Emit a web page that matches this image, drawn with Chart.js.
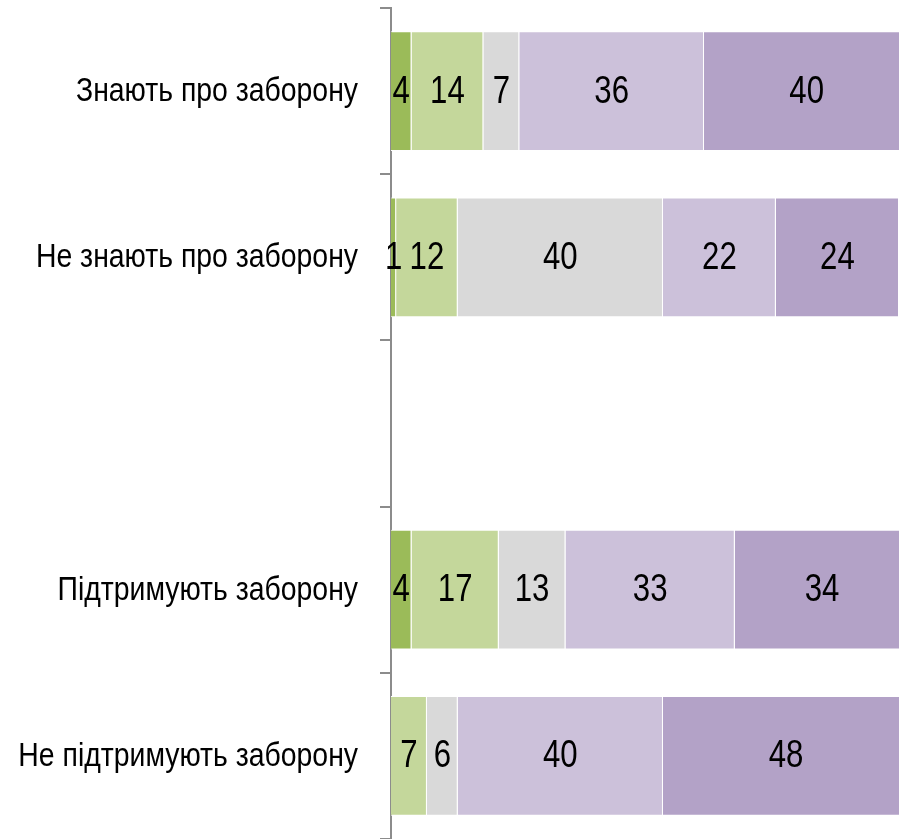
<!DOCTYPE html>
<html lang="uk">

<head>
    <meta charset="UTF-8">
    <title>Заборона</title>
    <script src="https://cdn.jsdelivr.net/npm/chart.js@4.4.0/dist/chart.umd.min.js"></script>
    <style>
        html,
        body {
            margin: 0;
            padding: 0;
            background: white;
        }

        #wrap {
            width: 899px;
            height: 839px;
        }
    </style>
</head>

<body>
    <div id="wrap">
        <canvas id="myChart"></canvas>
    </div>

    <script>
        const categories = [
            'Знають про заборону',
            'Не знають про заборону',
            '',
            'Підтримують заборону',
            'Не підтримують заборону'
        ]

        // five answer groups, from dark green to dark purple
        const group1 = [4, 1, null, 4, 0]
        const group2 = [14, 12, null, 17, 7]
        const group3 = [7, 40, null, 13, 6]
        const group4 = [36, 22, null, 33, 40]
        const group5 = [40, 24, null, 34, 48]

        const colors = ['#9bbb59', '#c4d79b', '#d9d9d9', '#ccc1da', '#b3a2c7']
        const series = [group1, group2, group3, group4, group5]

        // no narrow font installed, so squeeze Liberation Sans like Arial Narrow
        const FONT = '"Liberation Sans", Arial, sans-serif'

        function narrowText(ctx, text, x, y, size, align, squeeze) {
            ctx.save()
            ctx.font = size + 'px ' + FONT
            ctx.fillStyle = '#000'
            ctx.textAlign = align
            ctx.textBaseline = 'middle'
            ctx.translate(x, y)
            ctx.scale(squeeze, 1)
            ctx.fillText(text, 0, 0)
            ctx.restore()
        }

        // category names left of the axis
        const categoryLabels = {
            id: 'categoryLabels',
            afterDraw(chart) {
                const scale = chart.scales.y
                chart.data.labels.forEach((lab, i) => {
                    if (!lab) return
                    const y = scale.getPixelForTick(i)
                    narrowText(chart.ctx, lab, scale.right - 33, y + 1, 33, 'right', 0.86)
                })
            }
        }

        // write the value in the middle of every segment
        const valueLabels = {
            id: 'valueLabels',
            afterDatasetsDraw(chart) {
                chart.data.datasets.forEach((ds, i) => {
                    const meta = chart.getDatasetMeta(i)
                    meta.data.forEach((bar, j) => {
                        const v = ds.data[j]
                        if (!v) return
                        const p = bar.getCenterPoint()
                        narrowText(chart.ctx, String(v), p.x, p.y + 1, 38, 'center', 0.82)
                    })
                })
            }
        }

        const chart = new Chart('myChart', {
            type: 'bar',
            data: {
                labels: categories,
                datasets: series.map((d, i) => ({
                    data: d,
                    backgroundColor: colors[i],
                    borderColor: '#ffffff',
                    borderWidth: 1,
                    categoryPercentage: 1,
                    barPercentage: 0.72
                }))
            },
            options: {
                indexAxis: 'y',
                responsive: true,
                maintainAspectRatio: false,
                animation: false,
                layout: {
                    padding: { top: 8, right: 0, bottom: 0, left: 0 }
                },
                plugins: {
                    legend: { display: false },
                    tooltip: { enabled: false }
                },
                scales: {
                    x: {
                        display: false,
                        stacked: true,
                        min: 0,
                        max: 99
                    },
                    y: {
                        stacked: true,
                        afterFit(scale) {
                            scale.width = 391
                        },
                        border: {
                            display: true,
                            color: '#8c8c8c',
                            width: 2
                        },
                        grid: {
                            drawOnChartArea: false,
                            color: '#8c8c8c',
                            lineWidth: 2,
                            tickLength: 11
                        },
                        ticks: {
                            display: false
                        }
                    }
                }
            },
            plugins: [valueLabels, categoryLabels]
        })
    </script>
</body>

</html>
